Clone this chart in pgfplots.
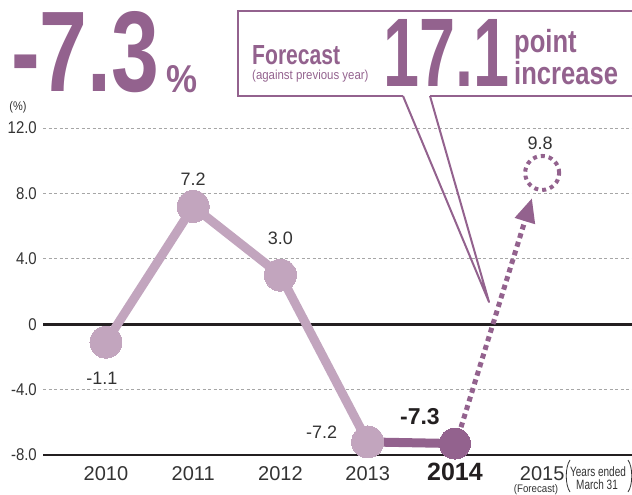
\documentclass[border=0pt]{standalone}
\usepackage{fontspec}
\setmainfont{Liberation Sans}
\newfontfamily\condreg[FakeStretch=0.88]{Liberation Sans}
\newfontfamily\condnar[FakeStretch=0.74]{Liberation Sans}
\newfontfamily\condbold[FakeStretch=0.8]{Liberation Sans}
\usepackage{pgfplots}
\pgfplotsset{compat=1.18}
\usetikzlibrary{arrows.meta}
\definecolor{dpurple}{HTML}{93628E}
\definecolor{lpurple}{HTML}{C2A5BE}
\definecolor{txt}{HTML}{333333}
\definecolor{axblack}{HTML}{231F20}
\newcommand{\fs}[1]{\fontsize{#1}{#1}\selectfont}
\begin{document}
\begin{tikzpicture}[x=1pt,y=1pt]
\useasboundingbox (0,0) rectangle (632,495);
\begin{axis}[
  at={(43pt,40pt)}, anchor=south west,
  scale only axis, width=589pt, height=327pt,
  xmin=2009.278, xmax=2016.03, ymin=-8, ymax=12,
  axis line style={draw=none},
  clip=false,
  ytick={-8,-4,0,4,8,12},
  yticklabels={-8.0,-4.0,0,4.0,8.0,12.0},
  xtick={2010,2011,2012,2013,2014,2015},
  xticklabels={2010,2011,2012,2013,{\bfseries\fs{25}\color{axblack}2014},2015},
  major tick length=0pt,
  ymajorgrids,
  grid style={black!35, line width=0.9pt, dash pattern=on 3pt off 2.5pt},
  yticklabel style={anchor=east, inner sep=0pt, xshift=-6pt, font=\condreg\fs{17}, text=txt},
  xticklabel style={anchor=base, inner sep=0pt, yshift=-26pt, font=\fs{20}, text=txt},
  /pgf/number format/assume math mode=true,
]
\draw[axblack, line width=1.4pt] (rel axis cs:0,0) -- (rel axis cs:1,0);
\draw[axblack, line width=3.2pt] (axis cs:2009.278,0) -- (axis cs:2016.03,0);
% dark segment 2013-2014
\addplot[dpurple, line width=9pt, no markers] coordinates {(2013,-7.2) (2014,-7.3)};
% light series
\addplot[lpurple, line width=9pt, line join=round, mark=*, mark size=16pt,
  mark options={fill=lpurple, draw=lpurple, line width=0pt}] coordinates {
  (2010,-1.1) (2011,7.2) (2012,3.0) (2013,-7.2)};
% 2014 marker
\addplot[dpurple, only marks, mark=*, mark size=15.5pt,
  mark options={fill=dpurple, draw=dpurple, line width=0pt}]
  coordinates {(2014,-7.3)};
% dotted arrow to forecast
\addplot[dpurple, line width=5pt, dash pattern=on 5pt off 4pt,
  -{Triangle[length=24pt,width=20pt]}] coordinates {(2014.07,-6.3) (2014.883,7.71)};
% forecast circle
\addplot[dpurple, only marks, mark=*, mark size=17pt,
  mark options={fill=white, draw=dpurple, line width=4pt, dash pattern=on 4pt off 4pt}]
  coordinates {(2015,9.25)};
% value labels
\node[txt, font=\fs{18}, inner sep=0pt] at (axis cs:2011,7.2) [yshift=27pt] {7.2};
\node[txt, font=\fs{18}, inner sep=0pt] at (axis cs:2012,3.0) [yshift=37pt] {3.0};
\node[txt, font=\fs{18}, inner sep=0pt] at (axis cs:2010,-1.1) [xshift=-4pt, yshift=-36pt] {-1.1};
\node[txt, font=\fs{18}, inner sep=0pt] at (axis cs:2013,-7.2) [xshift=-46pt, yshift=10pt] {-7.2};
\node[axblack, font=\bfseries\fs{23}, inner sep=0pt] at (axis cs:2014,-7.3) [xshift=-35pt, yshift=27pt] {-7.3};
\node[txt, font=\fs{18}, inner sep=0pt] at (axis cs:2015,9.25) [xshift=-2pt, yshift=30pt] {9.8};
\end{axis}
% unit label
\node[txt, font=\condreg\fs{12.5}, inner sep=0pt] at (18,388) {(\%)};
% big headline
\node[dpurple, anchor=south west, inner sep=0pt] at (11,402) {\resizebox{148pt}{80pt}{\bfseries -7.3}};
\node[dpurple, anchor=south west, inner sep=0pt] at (166,402) {\resizebox{31pt}{27pt}{\bfseries\%}};
% callout box
\draw[dpurple, line width=2pt] (403,399) -- (238,399) -- (238,484) -- (640,484);
\draw[dpurple, line width=2pt] (430,399) -- (640,399);
\draw[dpurple, line width=2pt, line join=round] (403,399) -- (489,193) -- (430,399);
\node[dpurple, anchor=south west, inner sep=0pt] at (252,430) {\resizebox{88pt}{19pt}{\bfseries Forecast}};
\node[dpurple, anchor=base west, inner sep=0pt, font=\condreg\fs{13}] at (252,415) {(against previous year)};
\node[dpurple, anchor=south west, inner sep=0pt] at (383,408) {\resizebox{126pt}{67pt}{\bfseries 17.1}};
\node[dpurple, anchor=base west, inner sep=0pt, font=\condbold\bfseries\fs{32}] at (514,442) {point};
\node[dpurple, anchor=base west, inner sep=0pt, font=\condbold\bfseries\fs{32}] at (514,410) {increase};
% x-axis notes
\node[txt, anchor=base, inner sep=0pt, font=\condreg\fs{11}] at (536,2) {(Forecast)};
\node[txt, anchor=base, inner sep=0pt, font=\condnar\fs{13.5}] at (598,18) {Years ended};
\node[txt, anchor=base, inner sep=0pt, font=\condnar\fs{13.5}] at (597,5) {March 31};
\draw[txt, line width=0.8pt] (570,35) .. controls (565,28) and (565,10) .. (570,3);
\draw[txt, line width=0.8pt] (628,35) .. controls (633,28) and (633,10) .. (628,3);
\end{tikzpicture}
\end{document}
